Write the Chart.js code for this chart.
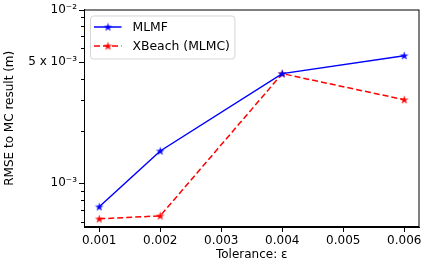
<!DOCTYPE html>
<html>
<head>
<meta charset="utf-8">
<script src="https://cdn.jsdelivr.net/npm/chart.js@4.4.1/dist/chart.umd.min.js"></script>
<style>
  html, body { margin: 0; padding: 0; background: #fff; }
  #wrap { width: 425px; height: 265px; }
</style>
</head>
<body>
<div id="wrap"><canvas id="chart" width="425" height="265"></canvas></div>
<script>
// data
const tolerances = [0.001, 0.002, 0.004, 0.006];
const rmseMLMF = [7.3e-4, 1.53e-3, 4.27e-3, 5.42e-3];
const rmseXBeach = [6.22e-4, 6.47e-4, 4.27e-3, 3.02e-3];
const xTicks = [0.001, 0.002, 0.003, 0.004, 0.005, 0.006];
const yTicks = [6e-4, 7e-4, 8e-4, 9e-4, 1e-3, 2e-3, 3e-3, 4e-3, 5e-3, 6e-3, 7e-3, 8e-3, 9e-3, 1e-2];
const yTickLabels = { '0.001': '10\u207B\u00B3', '0.005': '5 x 10\u207B\u00B3', '0.01': '10\u207B\u00B2' };

const FONT = 'DejaVu Sans';
Chart.defaults.font.family = FONT;
Chart.defaults.font.size = 12;
Chart.defaults.color = '#000';

// filled 5 point star, like matplotlib '*'
function makeStar(color) {
    const c = document.createElement('canvas');
    c.width = 11; c.height = 11;
    const g = c.getContext('2d');
    const R = 4.6, r = R * 0.382;
    g.beginPath();
    for (let i = 0; i < 10; i++) {
        const rad = i % 2 === 0 ? R : r;
        const a = -Math.PI / 2 + i * Math.PI / 5;
        const px = 5.5 + rad * Math.cos(a), py = 5.8 + rad * Math.sin(a);
        i === 0 ? g.moveTo(px, py) : g.lineTo(px, py);
    }
    g.closePath();
    g.fillStyle = color;
    g.fill();
    return c;
}
const blueStar = makeStar('#0000ff');
const redStar = makeStar('#ff0000');

const series = [
    { label: 'MLMF', data: rmseMLMF, color: '#0000ff', dash: [], star: blueStar },
    { label: 'XBeach (MLMC)', data: rmseXBeach, color: '#ff0000', dash: [6, 3], star: redStar }
];

// frame on top/right, minor ticks on log axis, legend inside plot
const framePlugin = {
    id: 'frame',
    afterDraw(chart) {
        const { ctx, chartArea: a } = chart;
        ctx.save();
        ctx.strokeStyle = '#000';
        ctx.lineWidth = 1;
        ctx.strokeRect(a.left + 0.5, a.top + 0.5, a.right - a.left - 1, a.bottom - a.top - 1);

        // y ticks: long for labelled, short for minor
        const ys = chart.scales.y;
        ys.ticks.forEach(t => {
            const py = Math.round(ys.getPixelForValue(t.value)) + 0.5;
            const len = yTickLabels[String(t.value)] ? 5 : 3;
            ctx.beginPath();
            ctx.moveTo(a.left, py);
            ctx.lineTo(a.left - len, py);
            ctx.stroke();
        });

        // legend
        const bx = a.left + 6.5, by = a.top + 6.5;
        ctx.font = '12.4px "' + FONT + '"';
        const textW = Math.max(...series.map(s => ctx.measureText(s.label).width));
        const bw = 42 + textW + 5, bh = 43;
        ctx.globalAlpha = 0.8;
        ctx.fillStyle = '#fff';
        ctx.strokeStyle = '#cccccc';
        ctx.beginPath();
        ctx.roundRect(bx, by, bw, bh, 3);
        ctx.fill();
        ctx.stroke();
        ctx.globalAlpha = 1;
        series.forEach((s, i) => {
            const ly = by + 11 + i * 19;
            ctx.strokeStyle = s.color;
            ctx.lineWidth = 1.5;
            ctx.setLineDash(s.dash);
            ctx.beginPath();
            ctx.moveTo(bx + 3.5, ly);
            ctx.lineTo(bx + 31, ly);
            ctx.stroke();
            ctx.setLineDash([]);
            ctx.drawImage(s.star, bx + 17.5 - 5.5, ly - 5.5);
            ctx.fillStyle = '#000';
            ctx.textBaseline = 'middle';
            ctx.fillText(s.label, bx + 42, ly + 1);
        });
        ctx.restore();
    }
};

new Chart(document.getElementById('chart'), {
    type: 'line',
    data: {
        datasets: series.map(s => ({
            label: s.label,
            data: tolerances.map((x, i) => ({ x: x, y: s.data[i] })),
            borderColor: s.color,
            backgroundColor: s.color,
            borderWidth: 1.5,
            borderDash: s.dash,
            pointStyle: s.star,
            tension: 0
        }))
    },
    options: {
        responsive: false,
        animation: false,
        layout: { padding: { top: 9.5, right: 5.5, left: 0, bottom: 0 } },
        plugins: { legend: { display: false }, tooltip: { enabled: false } },
        scales: {
            x: {
                type: 'linear',
                min: 0.00075,
                max: 0.00625,
                afterBuildTicks: sc => { sc.ticks = xTicks.map(v => ({ value: v })); },
                afterFit: sc => { sc.height = 38; sc.paddingLeft = 0; sc.paddingRight = 0; },
                ticks: { autoSkip: false, maxRotation: 0, padding: 2, callback: v => v.toFixed(3) },
                grid: { drawOnChartArea: false, tickLength: 5, color: '#000', tickColor: '#000' },
                border: { color: '#000', width: 1 },
                title: { display: true, text: 'Tolerance: \u03B5', padding: { top: 0, bottom: 3 } }
            },
            y: {
                type: 'logarithmic',
                min: 5.58e-4,
                max: 1e-2,
                afterBuildTicks: sc => { sc.ticks = yTicks.map(v => ({ value: v })); },
                afterFit: sc => { sc.width = 84; sc.paddingTop = 0; sc.paddingBottom = 0; },
                ticks: {
                    autoSkip: false,
                    padding: 7,
                    callback: v => yTickLabels[String(v)] || ''
                },
                grid: { drawOnChartArea: false, drawTicks: false, color: '#000' },
                border: { color: '#000', width: 1 },
                title: { display: true, text: 'RMSE to MC result (m)', padding: { top: 3, bottom: 0 } }
            }
        }
    },
    plugins: [framePlugin]
});
</script>
</body>
</html>
